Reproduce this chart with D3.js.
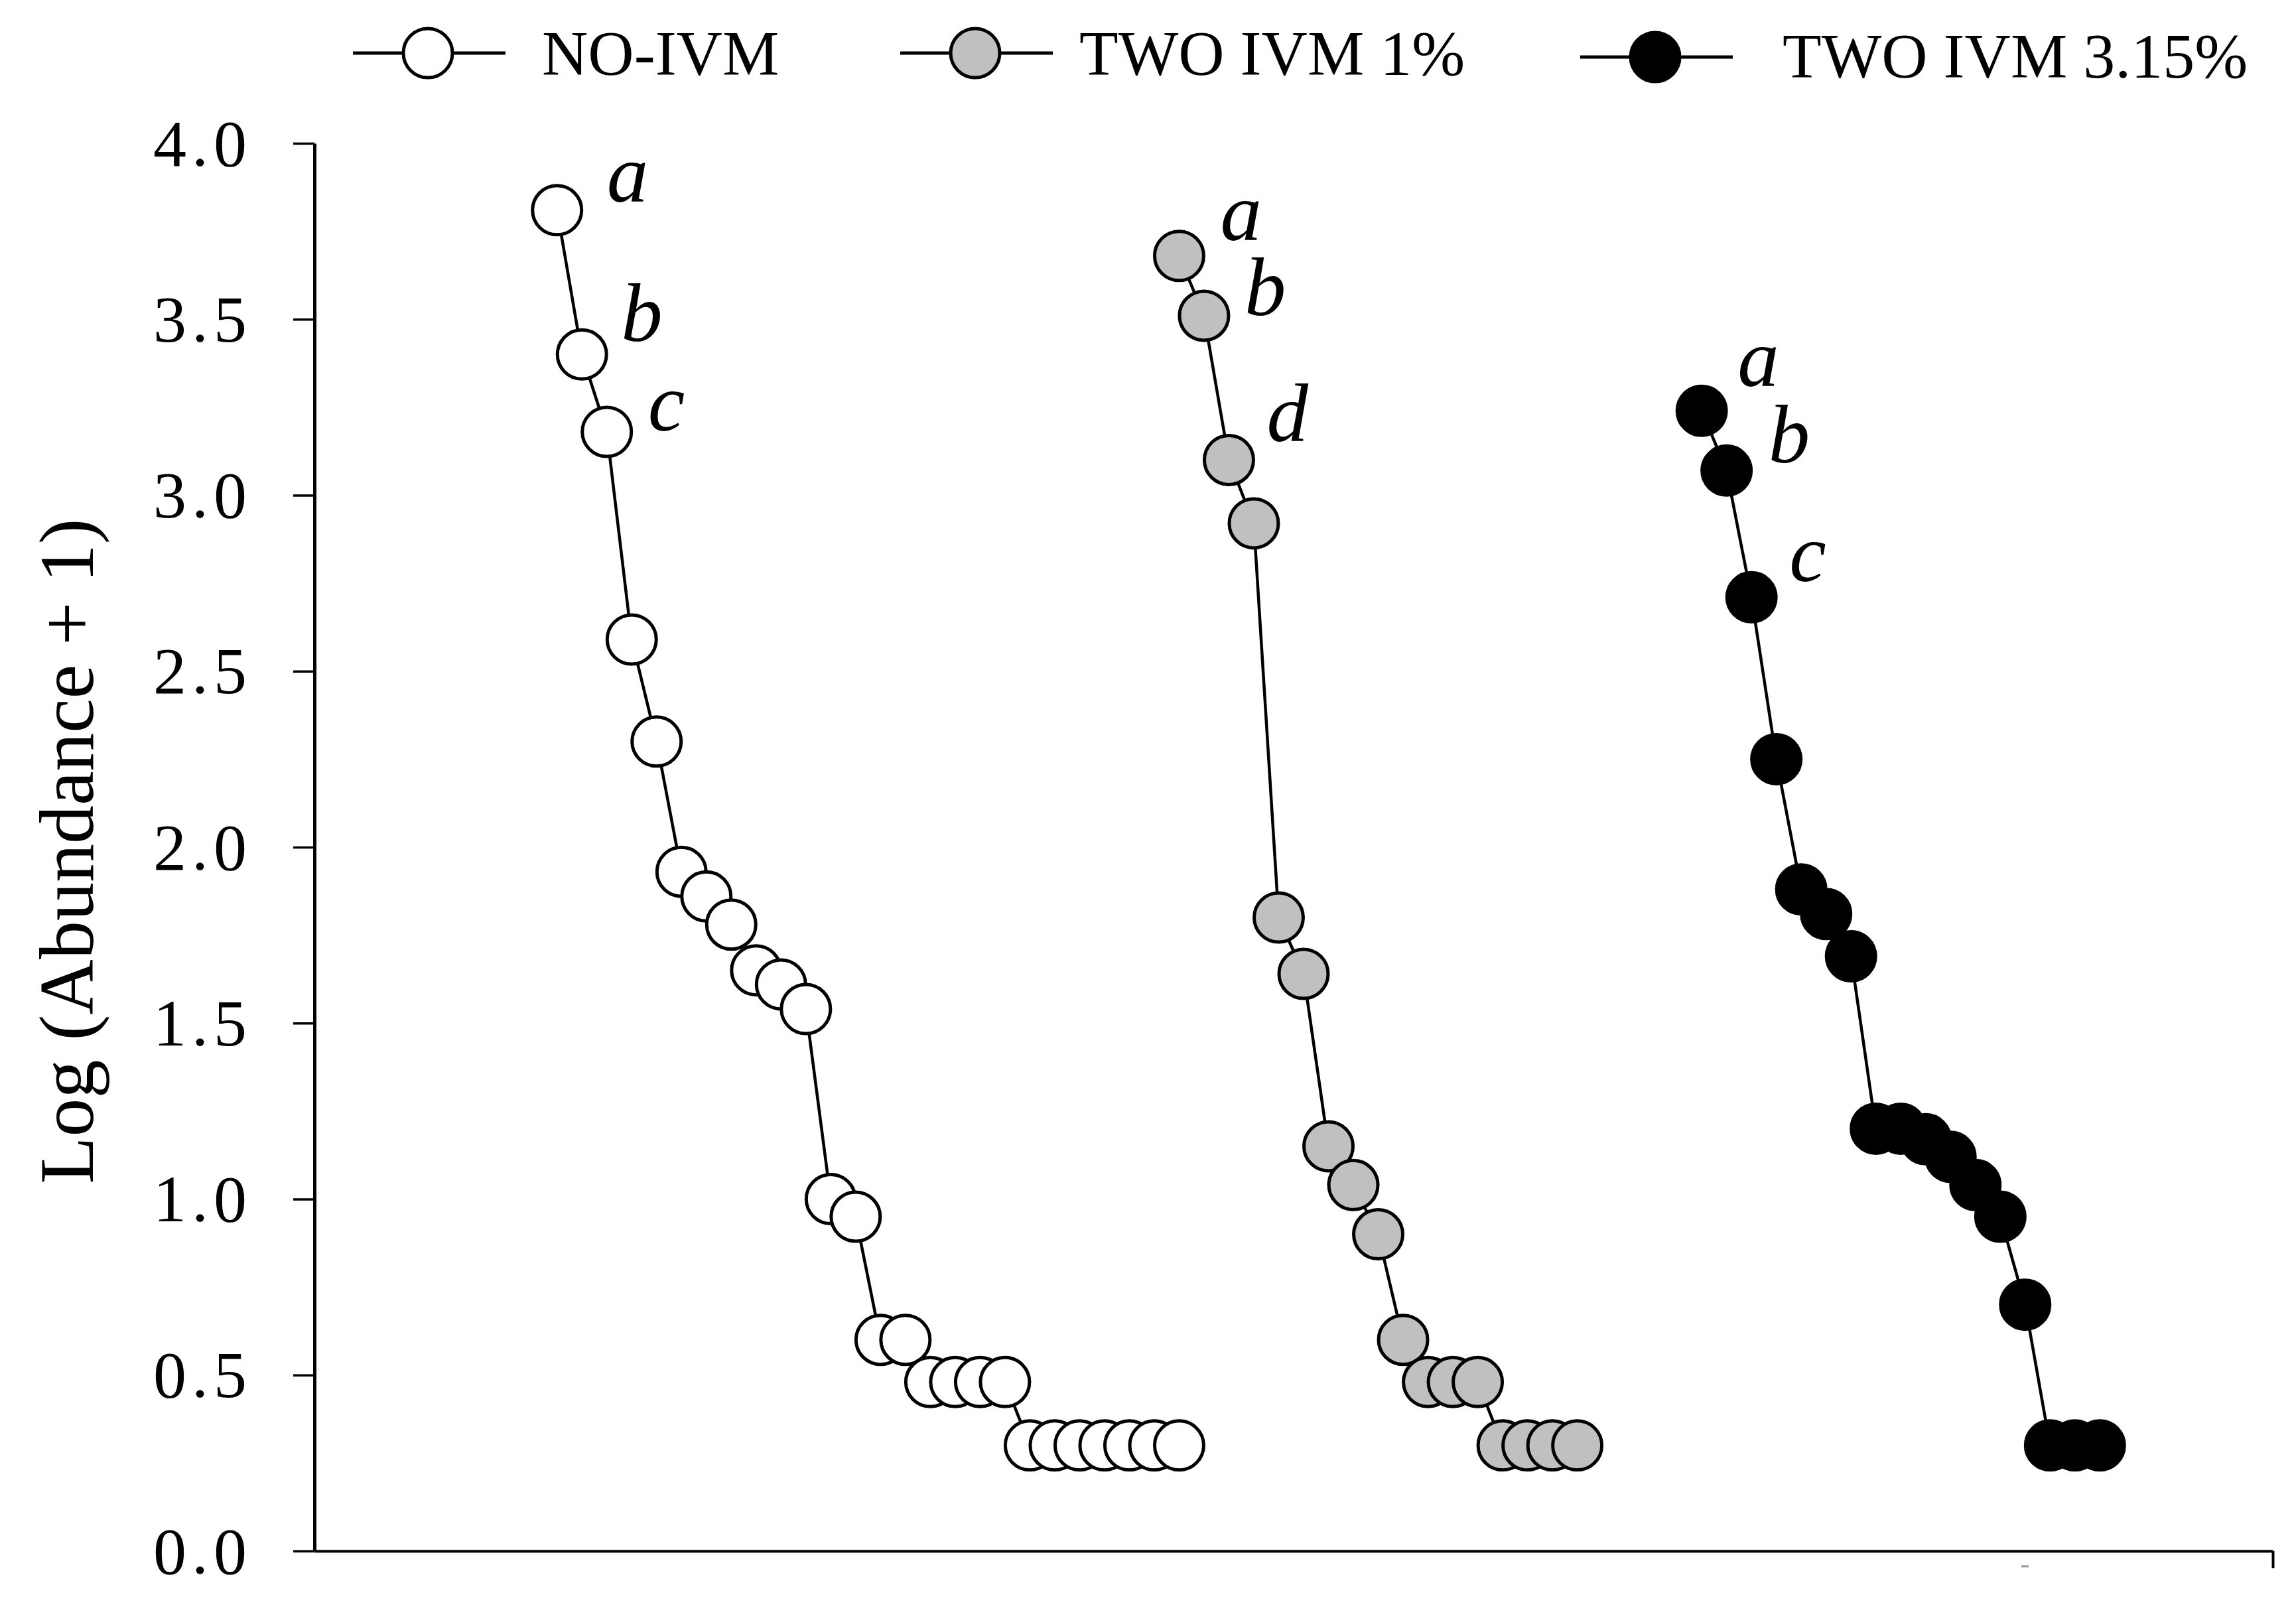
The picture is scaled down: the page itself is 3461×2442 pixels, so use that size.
<!DOCTYPE html>
<html><head><meta charset="utf-8">
<script src="https://cdn.jsdelivr.net/npm/d3@7"></script>
<style>html,body{margin:0;padding:0;background:#fff}</style>
</head><body>
<svg id="chart" width="3461" height="2442"></svg>
<script>
// ---------------- data ----------------
const seriesNames = ["NO-IVM", "TWO IVM 1%", "TWO IVM 3.15%"];
const noIvm = [3.81, 3.40, 3.18, 2.59, 2.30, 1.93, 1.86, 1.78, 1.65, 1.61, 1.54, 1.00, 0.95,
               0.60, 0.60, 0.48, 0.48, 0.48, 0.48, 0.30, 0.30, 0.30, 0.30, 0.30, 0.30, 0.30];
const twoIvm1 = [3.68, 3.51, 3.10, 2.92, 1.80, 1.64, 1.15, 1.04, 0.90, 0.60, 0.48, 0.48, 0.48,
                 0.30, 0.30, 0.30, 0.30];
const twoIvm315 = [3.24, 3.07, 2.71, 2.25, 1.88, 1.81, 1.69, 1.20, 1.20, 1.17, 1.12, 1.04, 0.95,
                   0.70, 0.30, 0.30, 0.30];
const rankStart = [0, 25, 46];           // rank (x value) of each series' first species
const yTickValues = [0, 0.5, 1, 1.5, 2, 2.5, 3, 3.5, 4];
const letterSeries = [0, 0, 0, 1, 1, 1, 2, 2, 2];
const letterIndex  = [0, 1, 2, 0, 1, 2, 0, 1, 2];
const letterText   = ["a", "b", "c", "a", "b", "d", "a", "b", "c"];

// ---------------- style / layout ----------------
const seriesFill = ["#ffffff", "#c0c0c0", "#000000"];
const letterOffsets = [[75, -13], [59, -20], [62, -2], [62, -24], [61, -1], [57, -28], [54, -37], [63, -12], [57, -24]];
const FONT = "'Liberation Serif', 'Times New Roman', Times, serif";
const R = 37;
const X_MIN = -9.75, X_MAX = 68.95;

const svg = d3.select("#chart");
const x = d3.scaleLinear().domain([X_MIN, X_MAX]).range([474, 3426]);
const y = d3.scaleLinear().domain([0, 4]).range([2338, 216]);

const allSeries = [noIvm, twoIvm1, twoIvm315].map((vals, s) =>
  vals.map((v, i) => ({ s, rank: rankStart[s] + i, v })));

// ---------------- axes ----------------
const yAxis = d3.axisLeft(y).tickValues(yTickValues).tickFormat(d3.format(".1f"))
  .tickSize(32).tickSizeOuter(0).tickPadding(62);
const gy = svg.append("g").attr("transform", `translate(${x(X_MIN)},0)`).call(yAxis);
gy.select(".domain").attr("stroke", "#000").attr("stroke-width", 5);
gy.selectAll(".tick line").attr("stroke", "#000").attr("stroke-width", 3.5);
gy.selectAll(".tick text").attr("font-family", FONT).attr("font-size", 100)
  .attr("letter-spacing", "8px").attr("fill", "#000").attr("dy", "0.33em");

const xAxis = d3.axisBottom(x).tickValues([X_MAX]).tickFormat("").tickSize(26).tickSizeOuter(0);
const gx = svg.append("g").attr("transform", `translate(0,${y(0)})`).call(xAxis);
gx.select(".domain").attr("stroke", "#000").attr("stroke-width", 4);
gx.selectAll(".tick line").attr("stroke", "#000").attr("stroke-width", 4);
// tiny stray mark under axis
svg.append("line").attr("x1", 3047).attr("x2", 3058).attr("y1", y(0) + 23).attr("y2", y(0) + 23)
  .attr("stroke", "#999").attr("stroke-width", 3);

svg.append("text")
  .attr("transform", `translate(140,1283) rotate(-90)`)
  .attr("text-anchor", "middle").attr("font-family", FONT).attr("font-size", 116)
  .text("Log (Abundance + 1)");

// ---------------- series ----------------
const line = d3.line().x(d => x(d.rank)).y(d => y(d.v));
allSeries.forEach((pts, s) => {
  const g = svg.append("g");
  g.append("path").datum(pts).attr("d", line).attr("fill", "none")
    .attr("stroke", "#000").attr("stroke-width", 4.5);
  g.selectAll("circle").data(pts).join("circle")
    .attr("cx", d => x(d.rank)).attr("cy", d => y(d.v)).attr("r", R)
    .attr("fill", seriesFill[s]).attr("stroke", "#000").attr("stroke-width", 5);
});

// letters
letterText.forEach((t, k) => {
  const p = allSeries[letterSeries[k]][letterIndex[k]];
  svg.append("text")
    .attr("x", x(p.rank) + letterOffsets[k][0]).attr("y", y(p.v) + letterOffsets[k][1])
    .attr("font-family", FONT).attr("font-style", "italic").attr("font-size", 125)
    .text(t);
});

// ---------------- legend ----------------
const legCx = [645, 1470, 2495];
const legCy = [80, 80, 86];
const legTx = [817, 1627, 2687];
const legTy = [113, 113, 117];
seriesNames.forEach((name, s) => {
  const g = svg.append("g");
  g.append("line").attr("x1", legCx[s] - 113).attr("x2", legCx[s] + 117)
    .attr("y1", legCy[s]).attr("y2", legCy[s]).attr("stroke", "#000").attr("stroke-width", 5);
  g.append("circle").attr("cx", legCx[s]).attr("cy", legCy[s]).attr("r", R)
    .attr("fill", seriesFill[s]).attr("stroke", "#000").attr("stroke-width", 5);
  g.append("text").attr("x", legTx[s]).attr("y", legTy[s])
    .attr("font-family", FONT).attr("font-size", 96).text(name);
});
</script>
</body></html>
